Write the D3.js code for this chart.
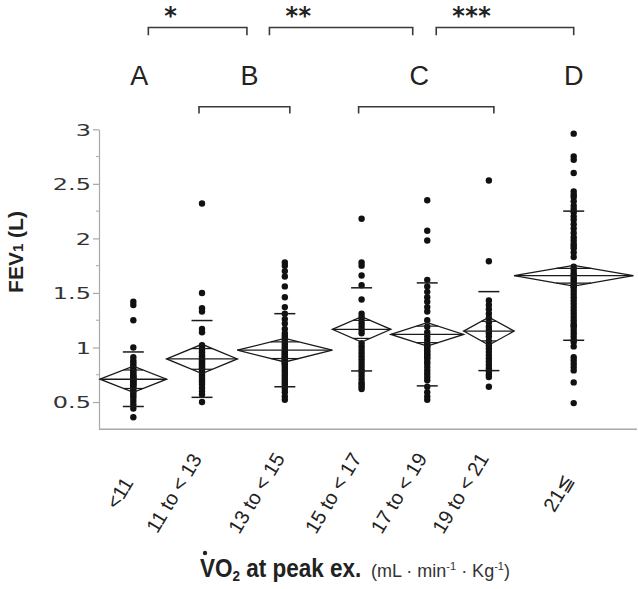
<!DOCTYPE html>
<html><head><meta charset="utf-8">
<script src="https://cdn.jsdelivr.net/npm/d3@7"></script>
<style>
html,body{margin:0;padding:0;background:#fff;}
svg{display:block;}
</style></head>
<body>
<svg id="chart" width="638" height="589"></svg>
<script>
// ---------------- data ----------------
const categories = ["<11", "11 to < 13", "13 to < 15", "15 to < 17", "17 to < 19", "19 to < 21", "21≦"];
const groupN = [33, 35, 47, 29, 36, 25, 59];

const fevLt11 = [1.42,1.39,1.25,1.00,0.91,0.88,0.86,0.84,0.82,0.80,0.78,0.77,0.75,0.74,0.73,0.72,0.71,0.70,0.69,0.68,0.67,0.66,0.65,0.64,0.62,0.60,0.58,0.56,0.54,0.51,0.48,0.44,0.36];
const fev11to13 = [2.32,1.50,1.36,1.33,1.17,1.14,1.02,1.00,0.98,0.96,0.95,0.93,0.92,0.90,0.89,0.88,0.87,0.86,0.85,0.84,0.83,0.82,0.81,0.80,0.78,0.76,0.74,0.72,0.70,0.68,0.66,0.63,0.60,0.57,0.50];
const fev13to15 = [1.78,1.75,1.70,1.65,1.56,1.46,1.37,1.31,1.26,1.22,1.17,1.13,1.11,1.09,1.07,1.05,1.03,1.01,0.99,0.97,0.96,0.95,0.94,0.93,0.92,0.91,0.90,0.89,0.88,0.87,0.86,0.85,0.84,0.82,0.80,0.78,0.76,0.74,0.72,0.70,0.68,0.66,0.64,0.62,0.59,0.55,0.52];
const fev15to17 = [2.18,1.78,1.75,1.66,1.57,1.44,1.31,1.28,1.25,1.22,1.19,1.16,1.13,1.04,1.01,0.98,0.95,0.92,0.89,0.86,0.83,0.80,0.77,0.74,0.71,0.68,0.66,0.64,0.62];
const fev17to19 = [2.35,2.07,1.98,1.62,1.56,1.51,1.46,1.42,1.37,1.33,1.25,1.19,1.14,1.10,1.07,1.04,1.02,1.01,0.99,0.97,0.96,0.94,0.93,0.91,0.90,0.87,0.85,0.82,0.79,0.76,0.73,0.70,0.64,0.59,0.55,0.52];
const fev19to21 = [2.53,1.79,1.43,1.39,1.35,1.31,1.27,1.23,1.19,1.16,1.13,1.10,1.06,1.02,0.99,0.96,0.93,0.90,0.87,0.84,0.81,0.78,0.75,0.73,0.64];
const fev21up = [2.96,2.75,2.72,2.60,2.43,2.40,2.38,2.34,2.30,2.27,2.24,2.20,2.17,2.13,2.09,2.05,2.01,1.98,1.95,1.93,1.91,1.87,1.83,1.74,1.71,1.68,1.66,1.64,1.62,1.60,1.58,1.56,1.55,1.52,1.49,1.46,1.43,1.40,1.37,1.34,1.31,1.28,1.25,1.22,1.20,1.19,1.16,1.13,1.10,1.07,1.05,1.01,0.91,0.88,0.85,0.82,0.79,0.68,0.49];
const groupValues = [fevLt11, fev11to13, fev13to15, fev15to17, fev17to19, fev19to21, fev21up];

// group means, 95% CI half widths, standard deviations
const groupMean = [0.709, 0.895, 0.975, 1.166, 1.12, 1.15, 1.658];
const groupCIHalf = [0.12, 0.134, 0.108, 0.117, 0.107, 0.127, 0.095];
const groupSD = [0.25, 0.352, 0.335, 0.381, 0.472, 0.362, 0.592];

const yTickValues = [0.5, 1, 1.5, 2, 2.5, 3];
const yTickLabels = ["0.5", "1", "1.5", "2", "2.5", "3"];
const yMinorTicks = [0.75, 1.25, 1.75, 2.25, 2.75];

const letters = ["A", "B", "C", "D"];
const letterGroups = [[0, 0], [1, 2], [3, 5], [6, 6]];
const sigMarks = ["*", "**", "***"];

// ---------------- layout ----------------
const svg = d3.select("#chart");
const axisX = 99, plotLeft = 100, plotRight = 633.3, plotTop = 129.3, plotBottom = 429.3;

const cum = [0];
groupN.forEach(n => cum.push(cum[cum.length - 1] + n));
const x = d3.scaleLinear().domain([0, cum[cum.length - 1]]).range([plotLeft, plotRight]);
const y = d3.scaleLinear().domain([0.25, 3]).range([plotBottom, plotTop]);

const groups = categories.map((c, i) => ({
  cat: c, i,
  x0: x(cum[i]), x1: x(cum[i + 1]), xc: x((cum[i] + cum[i + 1]) / 2),
  mean: groupMean[i], ci: groupCIHalf[i], sd: groupSD[i], values: groupValues[i]
}));

const axisColor = "#a8a8a8";

// y axis
const yAxis = d3.axisLeft(y).tickValues(yTickValues).tickSize(6).tickSizeOuter(0)
  .tickFormat((d, i) => yTickLabels[i]);
const gy = svg.append("g").attr("transform", `translate(${axisX},0)`).call(yAxis);
gy.select(".domain").attr("stroke", axisColor).attr("stroke-width", 1.2);
gy.selectAll(".tick line").attr("stroke", axisColor).attr("stroke-width", 1.2);
const sx = 1.5;
gy.selectAll(".tick text")
  .attr("font-family", "DejaVu Sans, Verdana, sans-serif")
  .attr("font-size", 16).attr("fill", "#333")
  .attr("x", -8 / sx).attr("dy", "0.36em")
  .attr("transform", `scale(${sx},1)`);
// minor ticks
svg.append("g").selectAll("line").data(yMinorTicks).join("line")
  .attr("x1", axisX - 3).attr("x2", axisX).attr("y1", d => y(d)).attr("y2", d => y(d))
  .attr("stroke", axisColor).attr("stroke-width", 1);

// x axis line
svg.append("line").attr("x1", axisX).attr("x2", 637).attr("y1", plotBottom).attr("y2", plotBottom)
  .attr("stroke", axisColor).attr("stroke-width", 1.4);

// y axis title
svg.append("text")
  .attr("transform", `translate(23,252) rotate(-90)`)
  .attr("text-anchor", "middle")
  .attr("font-family", "Liberation Sans, Arial, sans-serif")
  .attr("font-weight", "bold").attr("font-size", 21).attr("fill", "#222")
  .call(t => {
    t.append("tspan").text("FEV");
    t.append("tspan").attr("font-size", 15).text("1");
    t.append("tspan").text(" (L)");
  });

// ---------------- marks ----------------
const ink = "#1a1a1a";
const gMarks = svg.append("g");
groups.forEach(g => {
  const gg = gMarks.append("g");
  gg.selectAll("circle").data(g.values).join("circle")
    .attr("cx", g.xc).attr("cy", d => y(d)).attr("r", 3.2).attr("fill", "#111");
  const pts = [[g.x0, y(g.mean)], [g.xc, y(g.mean + g.ci)], [g.x1, y(g.mean)], [g.xc, y(g.mean - g.ci)]];
  gg.append("path").attr("d", d3.line()(pts) + "Z")
    .attr("fill", "none").attr("stroke", ink).attr("stroke-width", 1.3);
  gg.append("line").attr("x1", g.x0).attr("x2", g.x1).attr("y1", y(g.mean)).attr("y2", y(g.mean))
    .attr("stroke", ink).attr("stroke-width", 1.3);
  const h = g.ci / Math.SQRT2;
  const hw = (g.x1 - g.x0) / 2 * (1 - 1 / Math.SQRT2);
  [g.mean + h, g.mean - h].forEach(v => {
    gg.append("line").attr("x1", g.xc - hw).attr("x2", g.xc + hw).attr("y1", y(v)).attr("y2", y(v))
      .attr("stroke", ink).attr("stroke-width", 1.2);
  });
  [g.mean + g.sd, g.mean - g.sd].forEach(v => {
    gg.append("line").attr("x1", g.xc - 10.5).attr("x2", g.xc + 10.5).attr("y1", y(v)).attr("y2", y(v))
      .attr("stroke", ink).attr("stroke-width", 1.5);
  });
});

// ---------------- x category labels ----------------
const labG = svg.append("g").selectAll("g").data(groups).join("g");
labG.append("text")
  .attr("text-anchor", "middle")
  .attr("font-family", "Liberation Sans, Arial, DejaVu Sans, sans-serif")
  .attr("font-size", 20).attr("fill", "#222")
  .attr("transform", "rotate(-59)")
  .text(d => d.cat);
labG.each(function (d) {
  const bb = this.getBBox();
  const tx = d.xc + 4 - (bb.x + bb.width);
  const ty = 493 - (bb.y + bb.height / 2);
  d3.select(this).attr("transform", `translate(${tx},${ty})`);
});

// ---------------- x axis title ----------------
const title = svg.append("text")
  .attr("transform", "translate(200,577) scale(0.9,1)")
  .attr("font-family", "Liberation Sans, Arial, sans-serif")
  .attr("font-weight", "bold").attr("font-size", 25).attr("fill", "#222");
title.append("tspan").text("VO");
title.append("tspan").attr("font-size", 15).attr("dy", 4).text("2");
title.append("tspan").attr("dy", -4).text(" at peak ex.");
svg.append("circle").attr("cx", 205).attr("cy", 553).attr("r", 2.2).attr("fill", "#222");

const units = svg.append("text")
  .attr("x", 371).attr("y", 577)
  .attr("font-family", "Liberation Sans, Arial, sans-serif")
  .attr("font-size", 18).attr("fill", "#333");
units.append("tspan").text("(mL · min");
units.append("tspan").attr("font-size", 11).attr("dy", -7).text("-1");
units.append("tspan").attr("dy", 7).text(" · Kg");
units.append("tspan").attr("font-size", 11).attr("dy", -7).text("-1");
units.append("tspan").attr("dy", 7).text(")");

// ---------------- significance annotations ----------------
const letterDx = [6, 6, -6, 0];
const letterX = letterGroups.map(([a, b], i) => (groups[a].xc + groups[b].xc) / 2 + letterDx[i]);
const annColor = "#3a3a3a";
svg.append("g").selectAll("text").data(letters).join("text")
  .attr("x", (d, i) => letterX[i]).attr("y", 85)
  .attr("text-anchor", "middle")
  .attr("font-family", "Liberation Sans, Arial, sans-serif")
  .attr("font-size", 27).attr("fill", "#222")
  .text(d => d);

// lower brackets: span of groups inside a letter class
letterGroups.forEach(([a, b]) => {
  if (a === b) return;
  const xa = groups[a].xc - 3, xb = groups[b].xc + 5;
  svg.append("path").attr("d", `M${xa},113.5V106.8H${xb}V113.5`)
    .attr("fill", "none").attr("stroke", annColor).attr("stroke-width", 1.6);
});

// upper brackets between adjacent letter classes
const insetL = [9, 20, 17], insetR = [2.5, 6.5, 0];
sigMarks.forEach((s, i) => {
  const xa = letterX[i] + insetL[i], xb = letterX[i + 1] - insetR[i];
  svg.append("path").attr("d", `M${xa},35.2V27.5H${xb}V35.2`)
    .attr("fill", "none").attr("stroke", annColor).attr("stroke-width", 1.6);
  svg.append("text").attr("x", xa + 16).attr("y", 24)
    .attr("font-family", "DejaVu Sans, sans-serif").attr("font-weight", "bold")
    .attr("font-size", 24).attr("letter-spacing", 0.5).attr("fill", "#222")
    .text(s);
});
</script>
</body></html>
